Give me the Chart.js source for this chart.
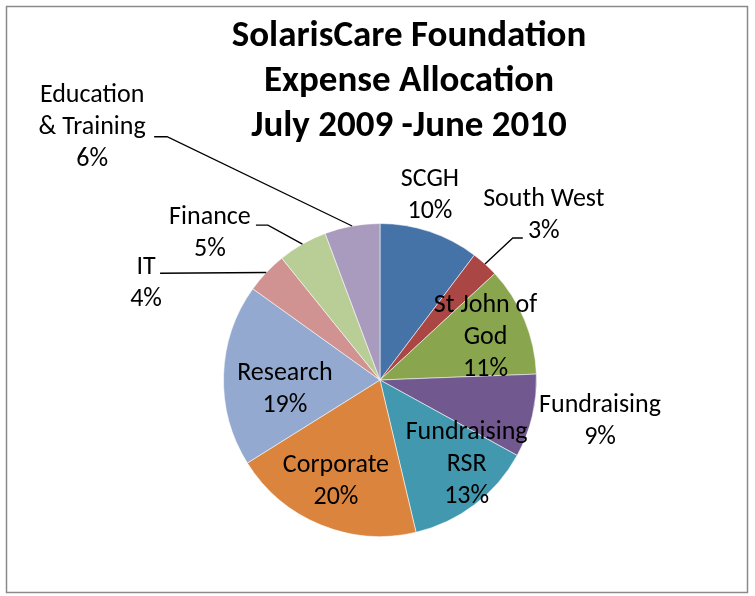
<!DOCTYPE html>
<html>
<head>
<meta charset="utf-8">
<title>SolarisCare Foundation Expense Allocation</title>
<script src="https://cdn.jsdelivr.net/npm/chart.js@4.4.0/dist/chart.umd.min.js"></script>
<style>
  html, body { margin: 0; padding: 0; background: #fff; }
  canvas { display: block; }
</style>
</head>
<body>
<canvas id="expenseChart" width="755" height="596"></canvas>
<script>
// Expense categories, clockwise from 12 o'clock
const categories = ['SCGH', 'South West', 'St John of God', 'Fundraising', 'Fundraising RSR',
    'Corporate', 'Research', 'IT', 'Finance', 'Education & Training'];
// How each category label is broken over lines
const labelLines = [['SCGH'], ['South West'], ['St John of', 'God'], ['Fundraising'], ['Fundraising', 'RSR'],
    ['Corporate'], ['Research'], ['IT'], ['Finance'], ['Education', '& Training']];
// Share of total expenses (%)
const shares = [10.3, 2.8, 11.3, 8.6, 13.3, 19.8, 18.8, 4.3, 5.1, 5.7];
const sliceColors = ['#4572A7', '#AA4643', '#89A54E', '#71588F', '#4198AF',
    '#DB843D', '#93A9CF', '#D19392', '#B9CD96', '#A99BBD'];
const titleLines = ['SolarisCare Foundation', 'Expense Allocation', 'July 2009 -June 2010'];

// Label placement: r = distance from centre in radii, da = degrees off the slice middle,
// leader = [anchor dx, anchor dy, elbow length] relative to the label centre
const labelPlace = [
    { r: 1.23, da: -3.5 },
    { r: 1.49, da: 2.5, leader: [-21, 23, -10] },
    { r: 0.73, da: 0 },
    { r: 1.43, da: -2.8 },
    { r: 0.77, da: -8.7 },
    { r: 0.70, da: 1.4 },
    { r: 0.61, da: -6.8 },
    { r: 1.62, da: -20.7, leader: [14, -10, 0] },
    { r: 1.44, da: -19.3, leader: [46, -8, 12] },
    { r: 2.45, da: -38.4, leader: [62, 9, 13] }
];

const FONT = 'Carlito, Lato, "Open Sans", sans-serif';
const total = shares.reduce((a, b) => a + b, 0);

// Frame round the whole chart
const framePlugin = {
    id: 'frame',
    beforeDraw(chart) {
        const ctx = chart.ctx;
        ctx.save();
        ctx.fillStyle = '#fff';
        ctx.fillRect(0, 0, chart.width, chart.height);
        ctx.strokeStyle = '#8a8a8a';
        ctx.lineWidth = 1.5;
        ctx.strokeRect(6.5, 6.5, 741, 586);
        ctx.restore();
    }
};

// Title and data labels with leader lines
const labelPlugin = {
    id: 'sliceLabels',
    afterDatasetsDraw(chart) {
        const ctx = chart.ctx;
        const arcs = chart.getDatasetMeta(0).data;
        ctx.save();
        ctx.fillStyle = '#000';
        ctx.textAlign = 'center';
        ctx.textBaseline = 'middle';

        ctx.font = 'bold 37px ' + FONT;
        titleLines.forEach((t, i) => ctx.fillText(t, 409, 37 + i * 45));

        ctx.font = '26px ' + FONT;
        arcs.forEach((arc, i) => {
            const p = arc.getProps(['x', 'y', 'startAngle', 'endAngle', 'outerRadius'], true);
            const mid = (p.startAngle + p.endAngle) / 2;
            const place = labelPlace[i];
            const a = mid + place.da * Math.PI / 180;
            const cx = p.x + Math.cos(a) * place.r * p.outerRadius;
            const cy = p.y + Math.sin(a) * place.r * p.outerRadius + 1;
            const lines = labelLines[i].concat(Math.round(shares[i] / total * 100) + '%');
            const lh = 32;
            const top = cy - (lines.length - 1) * lh / 2;
            lines.forEach((t, k) => ctx.fillText(t, cx, top + k * lh));

            if (place.leader) {
                const [ax, ay, el] = place.leader;
                const ex = p.x + Math.cos(mid) * p.outerRadius;
                const ey = p.y + Math.sin(mid) * p.outerRadius;
                ctx.beginPath();
                ctx.strokeStyle = '#000';
                ctx.lineWidth = 1.3;
                ctx.moveTo(cx + ax, cy + ay);
                ctx.lineTo(cx + ax + el, cy + ay);
                ctx.lineTo(ex, ey);
                ctx.stroke();
            }
        });
        ctx.restore();
    }
};

new Chart(document.getElementById('expenseChart'), {
    type: 'pie',
    data: {
        labels: categories,
        datasets: [{
            data: shares,
            backgroundColor: sliceColors,
            borderColor: 'rgba(255,255,255,0.55)',
            borderWidth: 1
        }]
    },
    options: {
        responsive: false,
        animation: false,
        layout: { padding: { left: 223, right: 218, top: 223, bottom: 59 } },
        plugins: {
            legend: { display: false },
            tooltip: { enabled: false },
            title: { display: false }
        }
    },
    plugins: [framePlugin, labelPlugin]
});
</script>
</body>
</html>
